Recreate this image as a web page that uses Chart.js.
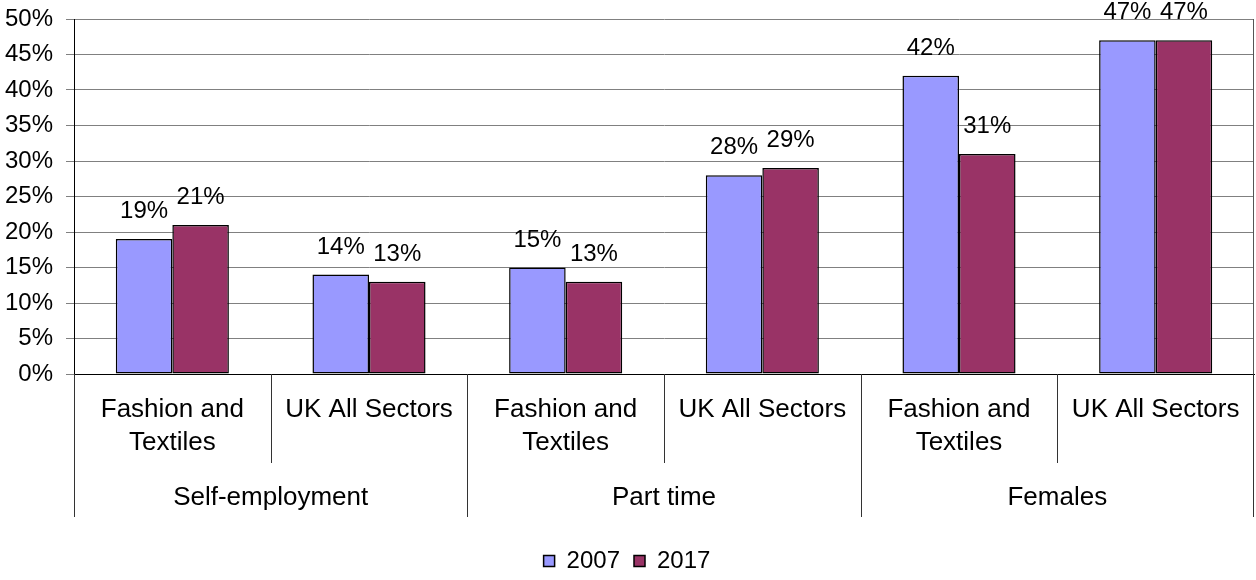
<!DOCTYPE html>
<html>
<head>
<meta charset="utf-8">
<script src="https://cdn.jsdelivr.net/npm/chart.js@4"></script>
<style>
  html, body { margin: 0; padding: 0; background: #fff; }
  #wrap { width: 1256px; height: 580px; }
</style>
</head>
<body>
<div id="wrap"><canvas id="myChart"></canvas></div>
<script>
const categories = [["Fashion and", "Textiles"], "UK All Sectors", ["Fashion and", "Textiles"], "UK All Sectors", ["Fashion and", "Textiles"], "UK All Sectors"];
const groups = ["Self-employment", "Part time", "Females"];
const series2007 = [19, 14, 15, 28, 42, 47];
const series2017 = [21, 13, 13, 29, 31, 47];
const seriesNames = ["2007", "2017"];
const seriesColors = ["#9999ff", "#993366"];

const FONT = "'Liberation Sans', Arial, sans-serif";
const PLOT_BOTTOM = 374;
const PAD_BOTTOM = -3;

// values above each bar
const barLabels = {
    id: 'barLabels',
    afterDatasetsDraw(chart) {
        const ctx = chart.ctx;
        ctx.save();
        ctx.font = "24px " + FONT;
        ctx.fillStyle = "#000";
        ctx.textAlign = "center";
        ctx.textBaseline = "alphabetic";
        chart.data.datasets.forEach((ds, di) => {
            chart.getDatasetMeta(di).data.forEach((bar, i) => {
                ctx.fillText(ds.data[i] + "%", bar.x, bar.y - 21);
            });
        });
        ctx.restore();
    }
};

// separators and group names under the x axis, plus the right border
const groupAxis = {
    id: 'groupAxis',
    afterDraw(chart) {
        const ctx = chart.ctx;
        const area = chart.chartArea;
        const n = categories.length;
        const w = (area.right - area.left) / n;
        ctx.save();
        ctx.strokeStyle = "#555";
        ctx.lineWidth = 1;
        ctx.beginPath();
        ctx.moveTo(Math.round(area.right) - 0.5, area.top);
        ctx.lineTo(Math.round(area.right) - 0.5, area.bottom);
        ctx.stroke();
        ctx.strokeStyle = "#333";
        for (let k = 0; k <= n; k++) {
            let x = Math.round(area.left + k * w) + 0.5;
            if (k == n) x = Math.round(area.right) - 0.5;
            ctx.beginPath();
            ctx.moveTo(x, area.bottom);
            ctx.lineTo(x, area.bottom + (k % 2 == 0 ? 143 : 89));
            ctx.stroke();
        }
        ctx.font = "26px " + FONT;
        ctx.fillStyle = "#000";
        ctx.textAlign = "center";
        ctx.textBaseline = "middle";
        for (let g = 0; g < groups.length; g++) {
            const cx = area.left + (g * 2 + 1) * w;
            ctx.fillText(groups[g], cx, area.bottom + 124);
        }
        ctx.restore();
    }
};

const chartdata = {
    labels: categories,
    datasets: [
        {
            label: seriesNames[0],
            data: series2007,
            backgroundColor: seriesColors[0],
            borderColor: "#000",
            borderWidth: 1.5,
            borderSkipped: false
        },
        {
            label: seriesNames[1],
            data: series2017,
            backgroundColor: seriesColors[1],
            borderColor: "#000",
            borderWidth: 1.5,
            borderSkipped: false
        }
    ]
};

var canvas = document.getElementById("myChart");
var config = {
    type: 'bar',
    data: chartdata,
    options: {
        responsive: true,
        maintainAspectRatio: false,
        animation: false,
        categoryPercentage: 0.575,
        barPercentage: 1,
        layout: { padding: { top: 19, right: 2, left: 0, bottom: PAD_BOTTOM } },
        plugins: {
            legend: {
                position: 'bottom',
                labels: {
                    font: { family: FONT, size: 24 },
                    color: "#000",
                    boxWidth: 11,
                    boxHeight: 11,
                    padding: 14
                }
            },
            tooltip: { enabled: false }
        },
        scales: {
            x: {
                grid: { display: false, drawTicks: false },
                border: { display: true, color: "#000", width: 1 },
                ticks: {
                    font: { family: FONT, size: 26, lineHeight: 33 / 26 },
                    color: "#000",
                    padding: 19,
                    maxRotation: 0,
                    autoSkip: false
                },
                afterFit(scale) {
                    const legendH = scale.chart.legend ? scale.chart.legend.height : 0;
                    scale.height = scale.chart.height - PLOT_BOTTOM - legendH - PAD_BOTTOM;
                    scale.paddingLeft = 0;
                    scale.paddingRight = 0;
                }
            },
            y: {
                min: 0,
                max: 50,
                grid: { color: "#808080", lineWidth: 1, drawTicks: true, tickLength: 8 },
                border: { display: true, color: "#000", width: 1 },
                ticks: {
                    stepSize: 5,
                    font: { family: FONT, size: 24 },
                    color: "#000",
                    padding: 13,
                    callback: v => v + "%"
                },
                afterFit(scale) {
                    scale.width = 74;
                    scale.paddingTop = 0;
                    scale.paddingBottom = 0;
                }
            }
        }
    },
    plugins: [barLabels, groupAxis]
};
let myChart = new Chart(canvas, config);
</script>
</body>
</html>
